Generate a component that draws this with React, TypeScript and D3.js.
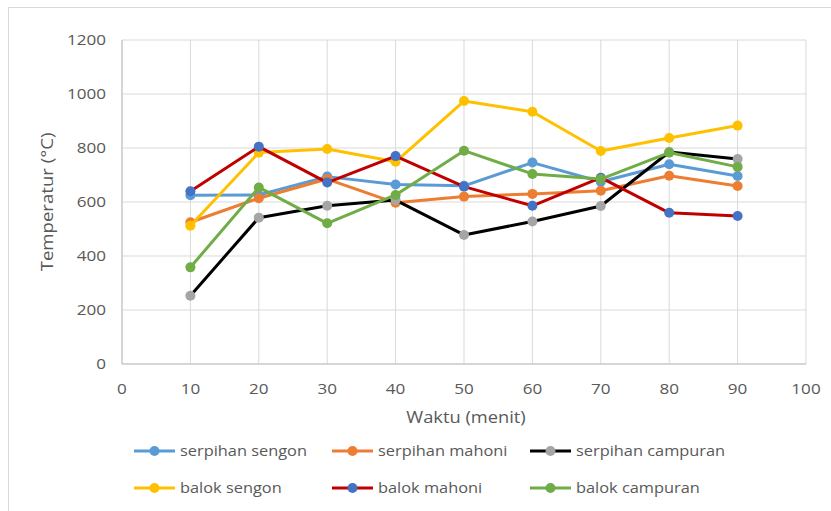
import React from "react";
import * as d3 from "d3";

const times = [10, 20, 30, 40, 50, 60, 70, 80, 90];
const serpihanSengon = [625, 626, 694, 665, 660, 746, 675, 740, 696];
const serpihanMahoni = [525, 614, 685, 597, 620, 630, 642, 697, 659];
const serpihanCampuran = [253, 542, 586, 607, 478, 528, 585, 785, 759];
const balokSengon = [512, 783, 796, 749, 974, 934, 789, 837, 883];
const balokMahoni = [640, 805, 672, 770, 657, 586, 690, 560, 548];
const balokCampuran = [358, 654, 521, 626, 790, 704, 685, 783, 730];
const xTicks = [0, 10, 20, 30, 40, 50, 60, 70, 80, 90, 100];
const yTicks = [0, 200, 400, 600, 800, 1000, 1200];

const series = [
  { name: "serpihan sengon", values: serpihanSengon, line: "#5B9BD5", marker: "#5B9BD5" },
  { name: "serpihan mahoni", values: serpihanMahoni, line: "#ED7D31", marker: "#ED7D31" },
  { name: "serpihan campuran", values: serpihanCampuran, line: "#000000", marker: "#A5A5A5" },
  { name: "balok sengon", values: balokSengon, line: "#FFC000", marker: "#FFC000" },
  { name: "balok mahoni", values: balokMahoni, line: "#C00000", marker: "#4472C4" },
  { name: "balok campuran", values: balokCampuran, line: "#70AD47", marker: "#70AD47" },
];

const FONT = "'Open Sans', 'Noto Sans', sans-serif";

function T({
  x,
  y,
  children,
  size,
  sx,
  anchor = "start",
  rotate = 0,
}: {
  x: number;
  y: number;
  children: any;
  size: number;
  sx: number;
  anchor?: string;
  rotate?: number;
}) {
  return (
    <text
      transform={`translate(${x},${y}) rotate(${rotate}) scale(${sx},1)`}
      dy="0.35em"
      textAnchor={anchor}
      fontFamily={FONT}
      fontSize={size}
      fill="#595959"
    >
      {children}
    </text>
  );
}

export default function App() {
  const x = d3.scaleLinear().domain([0, 100]).range([122, 806]);
  const y = d3.scaleLinear().domain([0, 1200]).range([364, 40]);
  const line = d3
    .line<number>()
    .x((_, i) => x(times[i]))
    .y((d) => y(d));

  const legendCols = [134, 332, 530];
  const legendRows = [451, 488];

  return (
    <svg
      width={831}
      height={511}
      style={{ position: "absolute", left: 0, top: 0, background: "#fff" }}
    >
      <rect x={8.5} y={7.5} width={830} height={520} fill="#fff" stroke="#D9D9D9" />
      {yTicks.map((t) => (
        <line key={"gy" + t} x1={x(0)} x2={x(100)} y1={y(t)} y2={y(t)} stroke="#D9D9D9" strokeWidth={1} />
      ))}
      {xTicks.map((t) => (
        <line key={"gx" + t} x1={x(t)} x2={x(t)} y1={y(0)} y2={y(1200)} stroke="#D9D9D9" strokeWidth={1} />
      ))}
      <line x1={x(0)} x2={x(100)} y1={y(0)} y2={y(0)} stroke="#BFBFBF" />
      <line x1={x(0)} x2={x(0)} y1={y(0)} y2={y(1200)} stroke="#BFBFBF" />
      {yTicks.map((t) => (
        <T key={"ty" + t} x={106} y={y(t)} size={14} sx={1.22} anchor="end">
          {t}
        </T>
      ))}
      {xTicks.map((t) => (
        <T key={"tx" + t} x={x(t)} y={389} size={14} sx={1.22} anchor="middle">
          {t}
        </T>
      ))}
      <T x={466} y={418} size={15.5} sx={1.18} anchor="middle">
        Waktu (menit)
      </T>
      <T x={48} y={202} size={15.5} sx={1.2} anchor="middle" rotate={-90}>
        Temperatur (°C)
      </T>
      {series.map((s) => (
        <g key={s.name}>
          <path d={line(s.values) || ""} fill="none" stroke={s.line} strokeWidth={3} strokeLinejoin="round" />
          {s.values.map((v, i) => (
            <circle key={i} cx={x(times[i])} cy={y(v)} r={5} fill={s.marker} />
          ))}
        </g>
      ))}
      {series.map((s, i) => {
        const lx = legendCols[i % 3];
        const ly = legendRows[Math.floor(i / 3)];
        return (
          <g key={"lg" + s.name}>
            <line x1={lx} x2={lx + 41} y1={ly} y2={ly} stroke={s.line} strokeWidth={3} />
            <circle cx={lx + 20.5} cy={ly} r={5} fill={s.marker} />
            <T x={lx + 46} y={ly} size={14} sx={1.17}>
              {s.name}
            </T>
          </g>
        );
      })}
    </svg>
  );
}
